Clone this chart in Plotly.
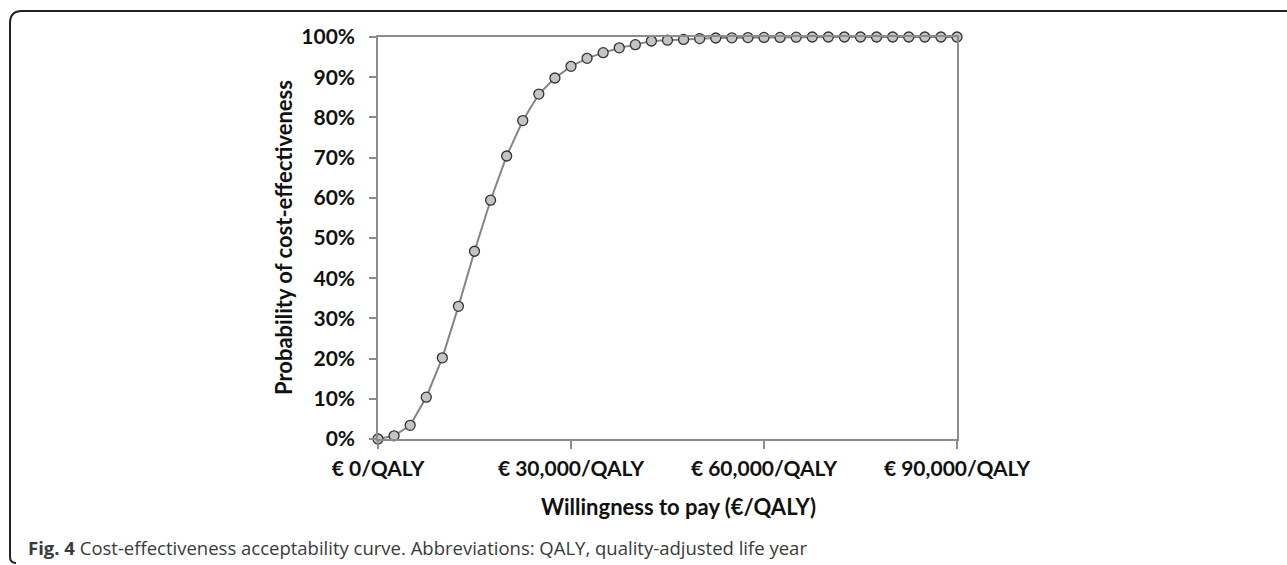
import plotly.graph_objects as go

# Data
wtp = [0, 2500, 5000, 7500, 10000, 12500, 15000, 17500, 20000, 22500, 25000, 27500,
       30000, 32500, 35000, 37500, 40000, 42500, 45000, 47500, 50000, 52500, 55000,
       57500, 60000, 62500, 65000, 67500, 70000, 72500, 75000, 77500, 80000, 82500,
       85000, 87500, 90000]
prob = [0.0, 0.8, 3.4, 10.4, 20.2, 33.0, 46.7, 59.4, 70.4, 79.2, 85.8, 89.8,
        92.7, 94.7, 96.1, 97.3, 98.1, 99.0, 99.2, 99.4, 99.6, 99.75, 99.8,
        99.85, 99.9, 99.9, 99.95, 100.0, 100.0, 100.0, 100.0, 100.0, 100.0, 100.0,
        100.0, 100.0, 100.0]
x_tickvals = [0, 30000, 60000, 90000]
x_ticktext = ["€ 0/QALY", "€ 30,000/QALY", "€ 60,000/QALY", "€ 90,000/QALY"]
y_tickvals = [0, 10, 20, 30, 40, 50, 60, 70, 80, 90, 100]
y_ticktext = ["0%", "10%", "20%", "30%", "40%", "50%", "60%", "70%", "80%", "90%", "100%"]

W, H = 1287, 565
L, R, T, B = 378, 957, 37, 439  # plot area pixels

def px(x):
    return (x - L) / (R - L)

def py(y):
    return (B - y) / (B - T)

FONT = "Lato"

fig = go.Figure()
fig.add_trace(go.Scatter(
    x=wtp, y=prob, mode="lines+markers",
    line=dict(color="#858585", width=2),
    marker=dict(size=10, color="#c4c4c4", line=dict(color="#333333", width=1.3)),
    cliponaxis=False, hoverinfo="x+y", showlegend=False,
))

axis_line = dict(showline=True, linecolor="#8c8c8c", linewidth=1.5, mirror=True,
                 showgrid=False, zeroline=False, ticks="outside", tickcolor="#8c8c8c",
                 tickwidth=1.5)

fig.update_layout(
    width=W, height=H,
    margin=dict(l=L, r=W - R, t=T, b=H - B, pad=0),
    paper_bgcolor="white", plot_bgcolor="white",
    font=dict(family=FONT, size=21, color="#111111"),
    xaxis=dict(range=[0, 90000], tickvals=x_tickvals, ticktext=x_ticktext,
               ticklen=8, ticklabelstandoff=2,
               tickfont=dict(family=FONT, size=21, weight="bold"),
               **axis_line),
    yaxis=dict(range=[0, 100], tickvals=y_tickvals, ticktext=y_ticktext,
               ticklen=7, ticklabelstandoff=10,
               tickfont=dict(family=FONT, size=21, weight="bold"),
               **axis_line),
)

# axis titles
fig.add_annotation(text="<b>Willingness to pay (€/QALY)</b>", xref="paper", yref="paper",
                   x=px(678), y=py(507), xanchor="center", yanchor="middle",
                   showarrow=False, font=dict(family=FONT, size=22, color="#111111"))
fig.add_annotation(text="<b>Probability of cost-effectiveness</b>", xref="paper", yref="paper",
                   x=px(283), y=py(238), xanchor="center", yanchor="middle", textangle=-90,
                   showarrow=False, font=dict(family=FONT, size=22, color="#111111"))

# caption
fig.add_annotation(text="<b>Fig. 4</b> Cost-effectiveness acceptability curve. Abbreviations: QALY, quality-adjusted life year",
                   xref="paper", yref="paper", x=px(26), y=py(547), xanchor="left", yanchor="middle",
                   showarrow=False, font=dict(family="Open Sans", size=18.5, color="#3a3a3a"))

# outer frame (top and left edges with rounded corners)
r = 12
x0, y0, y1 = 10, 11, 563
path = (f"M {px(W + 5)},{py(y0)} L {px(x0 + r)},{py(y0)} "
        f"Q {px(x0)},{py(y0)} {px(x0)},{py(y0 + r)} "
        f"L {px(x0)},{py(y1 - 6)} Q {px(x0)},{py(y1)} {px(x0 + 6)},{py(y1)}")
fig.add_shape(type="path", path=path, xref="paper", yref="paper",
              line=dict(color="#222222", width=2))

fig.write_html("out.html", config={"displayModeBar": False},
               post_script="document.body.style.margin='0';")
